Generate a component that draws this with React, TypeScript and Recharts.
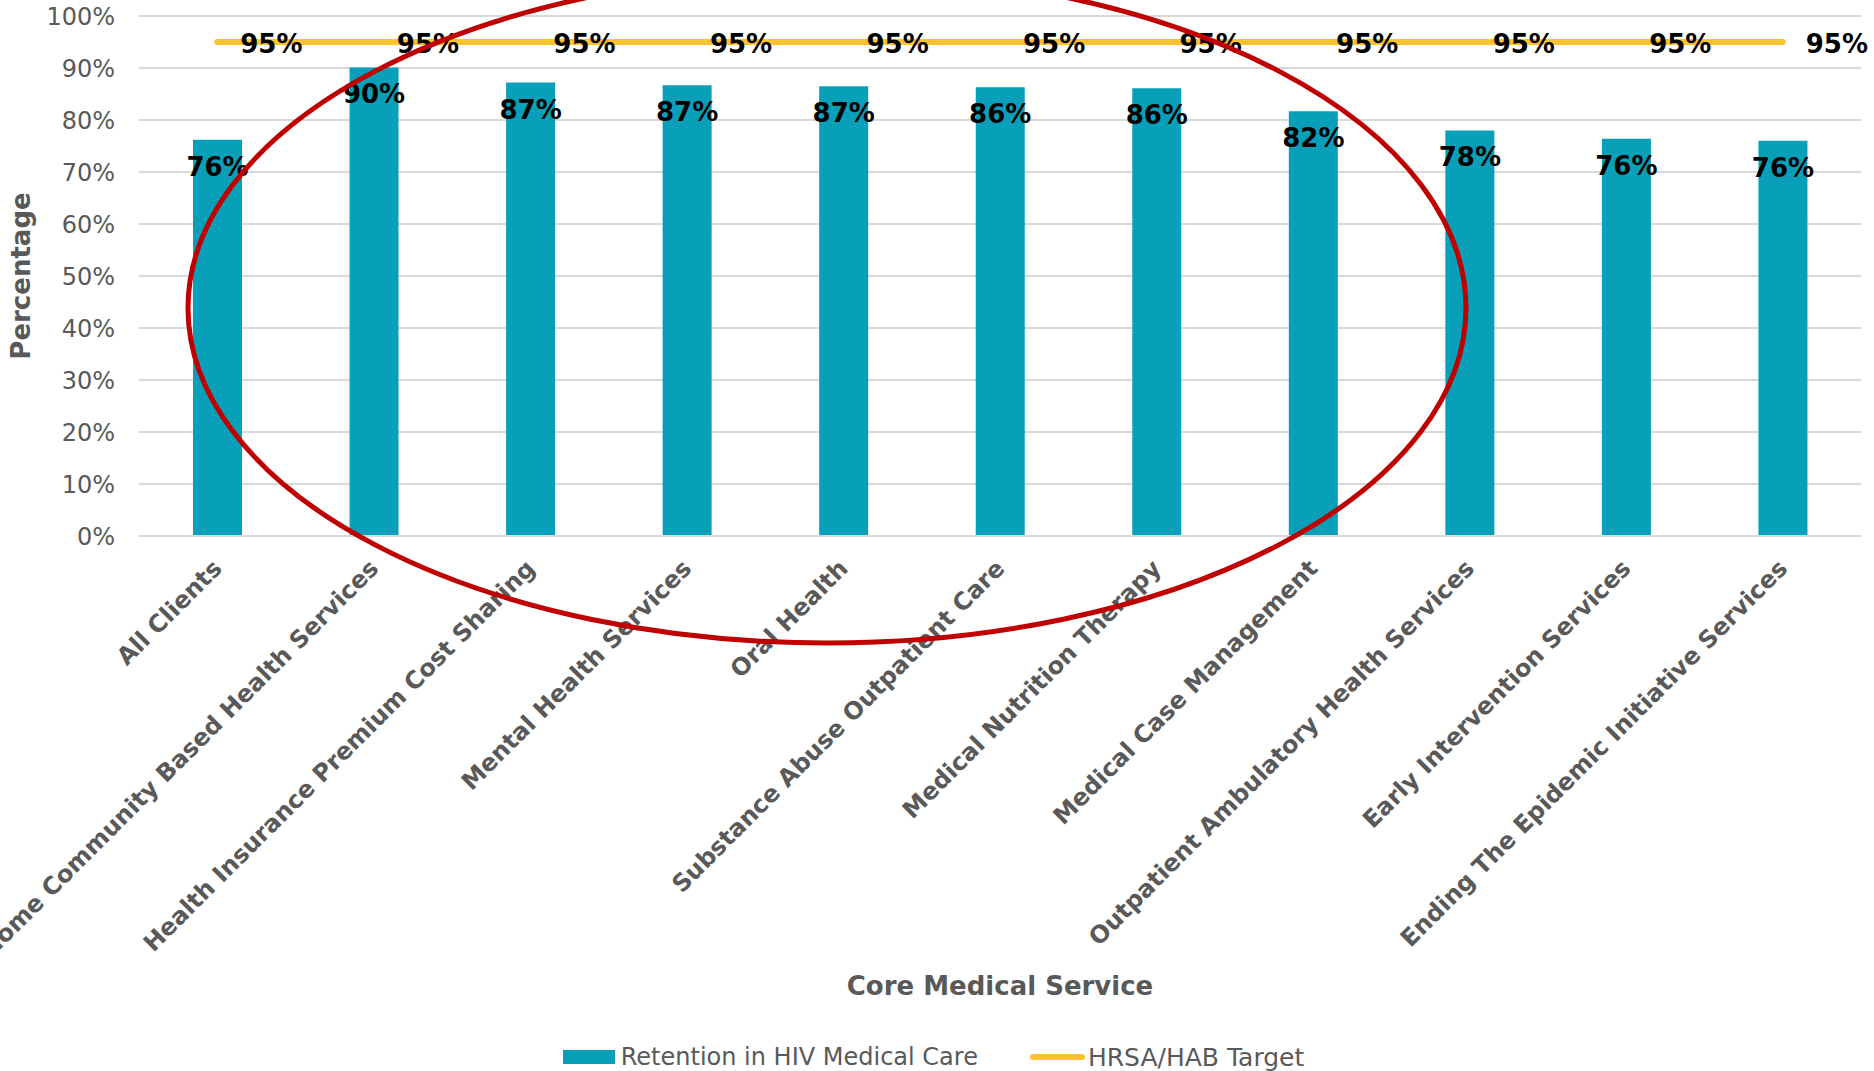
import React from 'react';
import {
  ComposedChart,
  Bar,
  Line,
  XAxis,
  YAxis,
  CartesianGrid,
  Legend,
  LabelList,
} from 'recharts';

const categories = [
  'All Clients',
  'Home Community Based Health Services',
  'Health Insurance Premium Cost Sharing',
  'Mental Health Services',
  'Oral Health',
  'Substance Abuse Outpatient Care',
  'Medical Nutrition Therapy',
  'Medical Case Management',
  'Outpatient Ambulatory Health Services',
  'Early Intervention Services',
  'Ending The Epidemic Initiative Services',
];

// Retention in HIV Medical Care (%)
const retention = [76.2, 90.1, 87.2, 86.7, 86.5, 86.3, 86.1, 81.7, 78.0, 76.4, 76.0];

// HRSA/HAB Target (%)
const target = [95, 95, 95, 95, 95, 95, 95, 95, 95, 95, 95];

const yTicks = [0, 10, 20, 30, 40, 50, 60, 70, 80, 90, 100];

const data = categories.map((name, i) => ({
  name,
  retention: retention[i],
  target: target[i],
}));

const FONT = '"DejaVu Sans", Verdana, sans-serif';
const GRAY = '#595959';
const TEAL = '#08A0B8';
const GOLD = '#FFC12C';

const XTick = ({ x, y, payload }: any) => (
  <g transform={`translate(${x + 6},${y + 34})`}>
    <text
      textAnchor="end"
      transform="rotate(-45)"
      fontFamily={FONT}
      fontSize={24}
      fontWeight="bold"
      fill={GRAY}
    >
      {payload.value}
    </text>
  </g>
);

const BarValue = ({ x, y, width, value }: any) => (
  <text
    x={x + width / 2}
    y={y + 27}
    textAnchor="middle"
    dominantBaseline="central"
    fontFamily={FONT}
    fontSize={26}
    fontWeight="bold"
    fill="#000"
  >
    {Math.round(value)}%
  </text>
);

const TargetValue = ({ x, y, value }: any) => (
  <text
    x={x + 23}
    y={y + 2}
    textAnchor="start"
    dominantBaseline="central"
    fontFamily={FONT}
    fontSize={26}
    fontWeight="bold"
    fill="#000"
  >
    {value}%
  </text>
);

const LegendContent = () => (
  <div
    style={{
      display: 'flex',
      justifyContent: 'center',
      alignItems: 'center',
      height: 36,
      position: 'relative',
      top: 4,
      paddingLeft: 6,
      fontFamily: FONT,
      fontSize: 24,
      color: GRAY,
    }}
  >
    <span style={{ display: 'flex', alignItems: 'center', marginRight: 52 }}>
      <span style={{ width: 52, height: 14, background: TEAL, marginRight: 6 }} />
      Retention in HIV Medical Care
    </span>
    <span style={{ display: 'flex', alignItems: 'center', fontSize: 25 }}>
      <span style={{ width: 55, height: 6, borderRadius: 3, background: GOLD, marginRight: 3 }} />
      HRSA/HAB Target
    </span>
  </div>
);

export default function App() {
  return (
    <div style={{ position: 'absolute', left: 0, top: 0, width: 1874, height: 1071, background: '#fff' }}>
      <ComposedChart
        width={1874}
        height={1071}
        data={data}
        margin={{ top: 16, right: 13, left: 0, bottom: 0 }}
      >
        <CartesianGrid vertical={false} stroke="#D9D9D9" strokeWidth={2} />
        <XAxis
          dataKey="name"
          interval={0}
          height={499}
          tickLine={false}
          tickSize={0}
          tickMargin={0}
          axisLine={{ stroke: '#D9D9D9', strokeWidth: 2 }}
          tick={<XTick />}
          label={({ viewBox }: any) => (
            <text
              x={viewBox.x + viewBox.width / 2}
              y={viewBox.y + 450}
              textAnchor="middle"
              dominantBaseline="central"
              fontFamily={FONT}
              fontSize={26}
              fontWeight="bold"
              fill={GRAY}
            >
              Core Medical Service
            </text>
          )}
        />
        <YAxis
          width={139}
          domain={[0, 100]}
          ticks={yTicks}
          interval={0}
          axisLine={false}
          tickLine={false}
          tickSize={0}
          tickMargin={24}
          tickFormatter={(v: number) => `${v}%`}
          tick={{ fontFamily: FONT, fontSize: 24, fill: GRAY }}
          label={({ viewBox }: any) => {
            const cy = viewBox.y + viewBox.height / 2;
            return (
              <text
                x={21}
                y={cy}
                transform={`rotate(-90, 21, ${cy})`}
                textAnchor="middle"
                dominantBaseline="central"
                fontFamily={FONT}
                fontSize={26}
                fontWeight="bold"
                fill={GRAY}
              >
                Percentage
              </text>
            );
          }}
        />
        <Legend verticalAlign="bottom" align="center" wrapperStyle={{ height: 36 }} content={<LegendContent />} />
        <Bar dataKey="retention" name="Retention in HIV Medical Care" fill={TEAL} barSize={49} isAnimationActive={false}>
          <LabelList dataKey="retention" content={<BarValue />} />
        </Bar>
        <Line
          dataKey="target"
          name="HRSA/HAB Target"
          type="linear"
          stroke={GOLD}
          strokeWidth={6}
          strokeLinecap="round"
          dot={false}
          activeDot={false}
          isAnimationActive={false}
        >
          <LabelList dataKey="target" content={<TargetValue />} />
        </Line>
      </ComposedChart>
      <svg
        width={1874}
        height={1071}
        style={{ position: 'absolute', left: 0, top: 0, pointerEvents: 'none' }}
      >
        <ellipse cx={827} cy={308} rx={639} ry={335} fill="none" stroke="#C00000" strokeWidth={5} />
      </svg>
    </div>
  );
}
